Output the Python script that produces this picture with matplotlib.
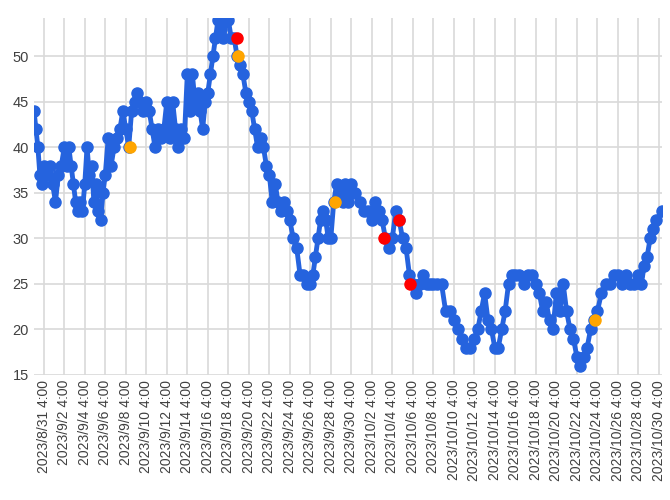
import numpy as np
import matplotlib.pyplot as plt
from datetime import datetime, timedelta

plt.rcParams['font.family'] = ['Liberation Sans', 'DejaVu Sans']

# readings, grouped per 2-day block starting 8/30 8:00 (first block is shorter)
first_block = [44, 42, 40, 37, 36]
blocks = [
    [38, 37, 38, 36, 34, 37, 38],
    [40, 38, 40, 38, 36, 34, 33, 34, 33],
    [36, 40, 37, 38, 34, 36, 33, 32, 35],
    [37, 41, 38, 40, 41, 42, 44],
    [42, 40, 44, 45, 46, 45, 44],
    [45, 44, 42, 40, 42, 41, 42],
    [45, 41, 45, 42, 40, 42, 41],
    [48, 44, 48, 45, 46, 44, 42, 45],
    [46, 48, 50, 52, 54, 53, 52, 54],
    [54, 52, 52, 50, 49, 48, 46],
    [45, 44, 42, 40, 41, 40, 38],
    [37, 34, 36, 34, 33, 34, 33],
    [32, 30, 29, 26, 26, 25],
    [25, 26, 28, 30, 32, 33, 32, 30],
    [30, 34, 36, 35, 34, 36, 34],
    [36, 35, 34, 33, 33],
    [32, 34, 33, 32, 30, 29],
    [30, 33, 32, 30, 29, 26],
    [25, 24, 25, 26, 25, 25],
    [25, 25, 25, 22, 22],
    [21, 20, 19, 18, 18],
    [19, 20, 22, 24, 21, 20],
    [18, 18, 20, 22, 25, 26],
    [26, 26, 25, 26, 26],
    [25, 24, 22, 23, 21, 20],
    [24, 22, 25, 22, 20, 19],
    [17, 16, 17, 18, 20, 21],
    [22, 24, 25, 25, 26],
    [26, 25, 26, 25, 25],
    [26, 25, 27, 28, 30, 31, 32],
]
last_value = 33

# highlighted readings (days after 8/31 4:00, value)
red_days = [18.84, 33.2, 34.66, 35.7]
red_vals = [52, 30, 32, 25]
orange_days = [8.4, 18.94, 28.4, 53.8]
orange_vals = [40, 50, 34, 21]

start = datetime(2023, 8, 31, 4)
tick_days = np.arange(0, 61, 2)
tick_labels = []
for d in tick_days:
    t = start + timedelta(days=int(d))
    tick_labels.append(f"{t.year}/{t.month}/{t.day} 4:00")

x = list(np.linspace(-0.95, 0, len(first_block), endpoint=False))
y = list(first_block)
for i, b in enumerate(blocks):
    x += list(np.linspace(2 * i, 2 * i + 2, len(b), endpoint=False))
    y += b
x.append(60.3)
y.append(last_value)

fig = plt.figure(figsize=(6.7, 5), dpi=100)
ax = fig.add_axes([0.05, 0.25, 0.938, 0.714])
blue = '#2563DE'
ax.plot(x, y, color=blue, lw=3.5, marker='o', ms=8, zorder=3)
ax.plot(red_days, red_vals, 'o', color='#FF0000', ms=8, zorder=4, ls='none')
ax.plot(orange_days, orange_vals, 'o', color='#FFA500', ms=8, zorder=4, ls='none')

ax.set_xlim(-1, 60.3)
ax.set_ylim(15, 54.2)
ax.set_yticks(range(15, 55, 5))
ax.set_xticks(tick_days)
ax.set_xticklabels(tick_labels, rotation=90, fontsize=10, color='#404040')
ax.tick_params(axis='y', labelsize=10.5, colors='#404040', length=0)
ax.tick_params(axis='x', length=0)
ax.grid(True, color='#D9D9D9', lw=1.2, zorder=0)
for s in ax.spines.values():
    s.set_visible(False)
ax.set_axisbelow(True)

fig.savefig('out.png', dpi=100)
